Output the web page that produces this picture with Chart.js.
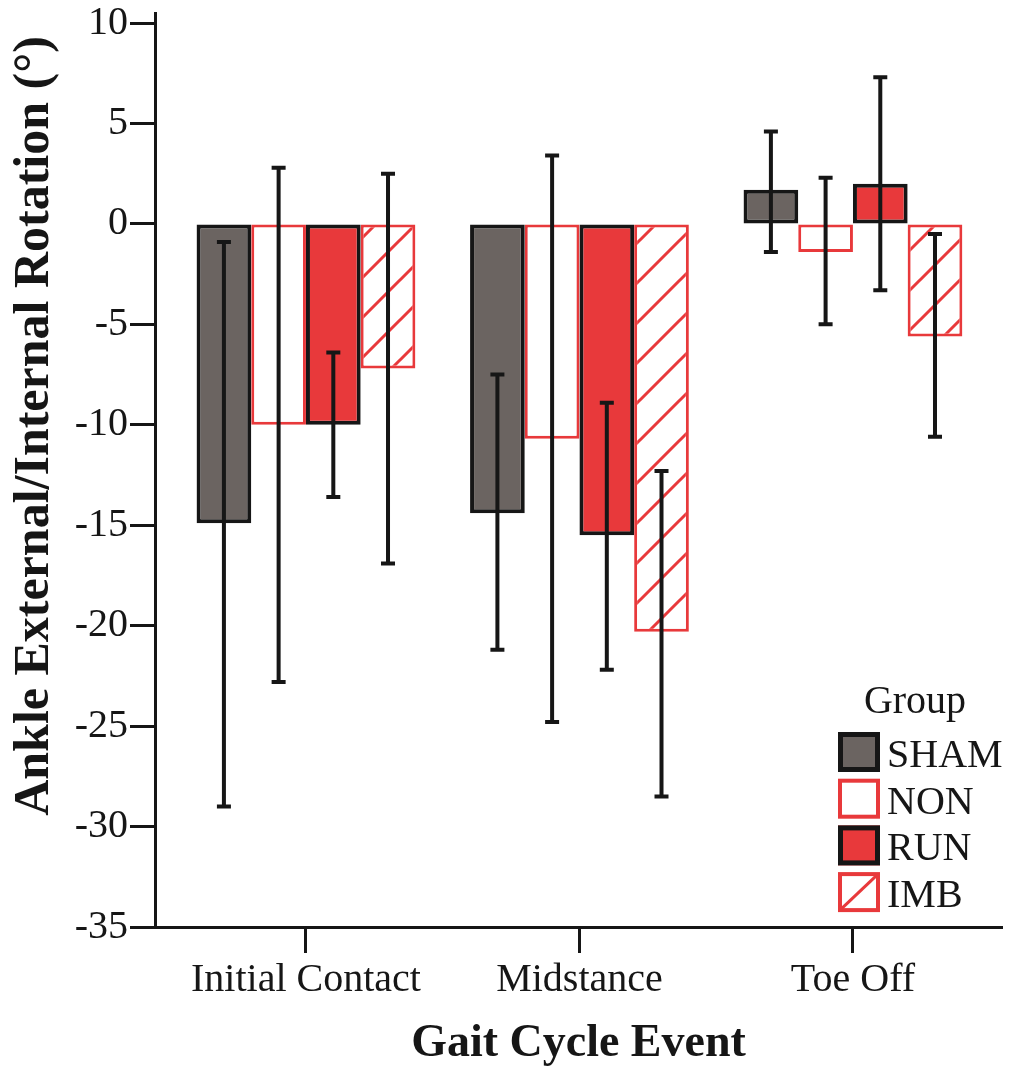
<!DOCTYPE html>
<html>
<head>
<meta charset="utf-8">
<script src="https://cdn.jsdelivr.net/npm/chart.js@4.4.1/dist/chart.umd.min.js"></script>
<style>
  html, body { margin: 0; padding: 0; background: #fff; }
  #wrap { width: 1011px; height: 1072px; }
</style>
</head>
<body>
<div id="wrap"><canvas id="chart" width="1011" height="1072"></canvas></div>
<script>
// ------------------------------------------------------------
// Ankle rotation by gait event — grouped bars with SD whiskers
// ------------------------------------------------------------

const CATEGORIES = ["Initial Contact", "Midstance", "Toe Off"];
const GROUPS = ["SHAM", "NON", "RUN", "IMB"];

const SHAM_MEAN = [-14.9, -14.4, 1.7];
const NON_MEAN  = [-10.0, -10.7, -1.4];
const RUN_MEAN  = [-10.0, -15.5, 2.0];
const IMB_MEAN  = [-7.2, -20.3, -5.6];

// error bar ends [low, high]
const SHAM_ERR = [[-29.0, -0.9], [-21.2, -7.5], [-1.4, 4.6]];
const NON_ERR  = [[-22.8, 2.8], [-24.8, 3.4], [-5.0, 2.3]];
const RUN_ERR  = [[-13.6, -6.4], [-22.2, -8.9], [-3.3, 7.3]];
const IMB_ERR  = [[-16.9, 2.5], [-28.5, -12.3], [-10.6, -0.5]];

const Y_TICKS = [-35, -30, -25, -20, -15, -10, -5, 0, 5, 10];

const INK = "#161616";
const RED = "#e8393b";
const GRAY = "#6b6461";
const SERIF = "'Liberation Serif', 'Times New Roman', serif";

function hatchPattern() {
  const c = document.createElement("canvas");
  c.width = 40; c.height = 40;
  const g = c.getContext("2d");
  g.fillStyle = "#fff";
  g.fillRect(0, 0, 40, 40);
  g.strokeStyle = RED;
  g.lineWidth = 3;
  g.beginPath();
  g.moveTo(-5, 45); g.lineTo(45, -5);
  g.moveTo(-5, 5); g.lineTo(5, -5);
  g.moveTo(35, 45); g.lineTo(45, 35);
  g.stroke();
  return g.createPattern(c, "repeat");
}

const HATCH = hatchPattern();

function points(arr) {
  return arr.map((v, i) => ({ x: i, y: v }));
}

const datasets = [
  { label: "SHAM", data: points(SHAM_MEAN), err: SHAM_ERR, backgroundColor: GRAY, borderColor: INK, borderWidth: 4 },
  { label: "NON",  data: points(NON_MEAN),  err: NON_ERR,  backgroundColor: "#fff", borderColor: RED, borderWidth: 3 },
  { label: "RUN",  data: points(RUN_MEAN),  err: RUN_ERR,  backgroundColor: RED, borderColor: INK, borderWidth: 4 },
  { label: "IMB",  data: points(IMB_MEAN),  err: IMB_ERR,  backgroundColor: HATCH, borderColor: RED, borderWidth: 3 },
].map(d => Object.assign(d, { borderSkipped: false, categoryPercentage: 0.8, barPercentage: 1.0 }));

// whiskers drawn through the y scale
const errorBars = {
  id: "errorBars",
  afterDatasetsDraw(chart) {
    const ctx = chart.ctx;
    const y = chart.scales.y;
    ctx.save();
    ctx.strokeStyle = INK;
    ctx.lineWidth = 4;
    chart.data.datasets.forEach((ds, di) => {
      chart.getDatasetMeta(di).data.forEach((bar, i) => {
        const [lo, hi] = ds.err[i];
        const yl = y.getPixelForValue(lo), yh = y.getPixelForValue(hi);
        ctx.beginPath();
        ctx.moveTo(bar.x, yl); ctx.lineTo(bar.x, yh);
        ctx.moveTo(bar.x - 7, yl); ctx.lineTo(bar.x + 7, yl);
        ctx.moveTo(bar.x - 7, yh); ctx.lineTo(bar.x + 7, yh);
        ctx.stroke();
      });
    });
    ctx.restore();
  }
};

// y title and the boxed legend sitting inside the plot
const decorations = {
  id: "decorations",
  afterDraw(chart) {
    const ctx = chart.ctx;
    ctx.save();
    ctx.fillStyle = INK;
    ctx.font = "bold 50px " + SERIF;
    ctx.textAlign = "center";
    ctx.textBaseline = "alphabetic";
    ctx.translate(48, 426);
    ctx.rotate(-Math.PI / 2);
    ctx.fillText("Ankle External/Internal Rotation (\u00b0)", 0, 0);
    ctx.restore();

    ctx.save();
    ctx.font = "40px " + SERIF;
    ctx.fillStyle = INK;
    ctx.textAlign = "center";
    ctx.fillText("Group", 915, 713);
    ctx.textAlign = "left";
    chart.data.datasets.forEach((ds, i) => {
      const x = 838, top = 732 + i * 46.7, w = 42, h = 40;
      const bw = ds.borderWidth + 1;
      ctx.fillStyle = ds.label === "IMB" ? "#fff" : ds.backgroundColor;
      ctx.fillRect(x, top, w, h);
      if (ds.label === "IMB") {
        ctx.strokeStyle = RED;
        ctx.lineWidth = 3;
        ctx.beginPath();
        ctx.moveTo(x + 2, top + h - 2);
        ctx.lineTo(x + w - 2, top + 2);
        ctx.stroke();
      }
      ctx.strokeStyle = ds.borderColor;
      ctx.lineWidth = bw;
      ctx.strokeRect(x + bw / 2, top + bw / 2, w - bw, h - bw);
      ctx.fillStyle = INK;
      ctx.fillText(ds.label, 887, top + h - 5);
    });
    ctx.restore();
  }
};

new Chart(document.getElementById("chart"), {
  type: "bar",
  data: { datasets },
  plugins: [errorBars, decorations],
  options: {
    responsive: false,
    animation: false,
    layout: { padding: { top: 13, right: 9, left: 0, bottom: 0 } },
    plugins: { legend: { display: false }, tooltip: { enabled: false } },
    scales: {
      x: {
        type: "linear",
        min: -0.552,
        max: 2.545,
        bounds: "data",
        offset: false,
        afterBuildTicks: s => { s.ticks = CATEGORIES.map((c, i) => ({ value: i })); },
        afterFit: s => { s.height = 145; },
        ticks: {
          autoSkip: false,
          maxRotation: 0,
          padding: 3,
          color: INK,
          font: { family: SERIF, size: 40 },
          callback: v => CATEGORIES[v],
        },
        grid: { offset: false, drawOnChartArea: false, tickLength: 26, tickWidth: 3, tickColor: INK },
        border: { display: true, width: 3, color: INK },
        title: {
          display: true,
          text: "Gait Cycle Event",
          color: INK,
          font: { family: SERIF, size: 46, weight: "bold" },
          padding: { top: 0, bottom: 0 },
        },
      },
      y: {
        min: -35,
        max: 10.5,
        bounds: "data",
        afterBuildTicks: s => { s.ticks = Y_TICKS.map(v => ({ value: v })); },
        afterFit: s => { s.width = 155; },
        ticks: {
          padding: 2,
          color: INK,
          font: { family: SERIF, size: 40, lineHeight: 0.5 },
          callback: v => String(v),
        },
        grid: { drawOnChartArea: false, tickLength: 25, tickWidth: 3, tickColor: INK },
        border: { display: true, width: 3, color: INK },
      },
    },
  },
});
</script>
</body>
</html>
